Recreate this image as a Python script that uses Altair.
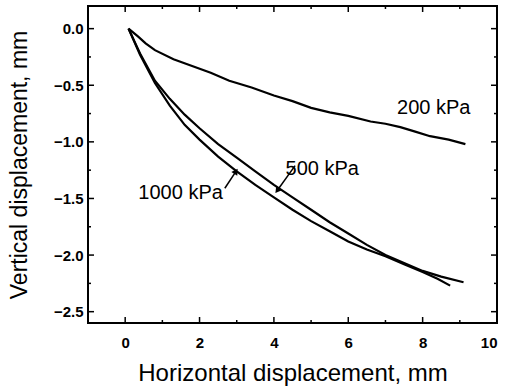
import altair as alt
import pandas as pd

# ---- data ----
x_200 = [0.09, 0.35, 0.55, 0.8, 1.3, 1.8, 2.3, 2.8, 3.4, 4.0, 4.5, 5.0, 5.5, 6.0, 6.6, 7.0, 7.4, 7.8, 8.2, 8.7, 9.15]
y_200 = [0.0, -0.07, -0.13, -0.19, -0.27, -0.33, -0.39, -0.46, -0.52, -0.59, -0.64, -0.70, -0.74, -0.77, -0.82, -0.84, -0.87, -0.91, -0.95, -0.98, -1.02]

x_500 = [0.09, 0.4, 0.8, 1.2, 1.6, 2.0, 2.5, 3.0, 3.5, 4.0, 4.5, 5.0, 5.5, 6.0, 6.5, 7.0, 7.5, 8.0, 8.5, 9.1]
y_500 = [0.0, -0.22, -0.46, -0.62, -0.76, -0.88, -1.02, -1.14, -1.26, -1.38, -1.49, -1.60, -1.71, -1.81, -1.91, -2.00, -2.07, -2.14, -2.19, -2.24]

x_1000 = [0.09, 0.4, 0.8, 1.2, 1.6, 2.0, 2.5, 3.0, 3.5, 4.0, 4.5, 5.0, 5.5, 6.0, 6.5, 7.0, 7.5, 8.0, 8.4, 8.74]
y_1000 = [0.0, -0.23, -0.48, -0.68, -0.85, -0.98, -1.13, -1.26, -1.38, -1.49, -1.60, -1.70, -1.79, -1.88, -1.95, -2.01, -2.08, -2.15, -2.21, -2.27]

label_text = ["200 kPa", "500 kPa", "1000 kPa"]
label_x = [8.30, 5.30, 1.49]
label_y = [-0.70, -1.24, -1.45]

arrow_name = ["500 kPa", "500 kPa", "1000 kPa", "1000 kPa"]
arrow_x = [4.57, 4.09, 2.68, 2.98]
arrow_y = [-1.21, -1.43, -1.41, -1.26]
arrow_part = ["tail", "head", "tail", "head"]
head_angle = [217, 33]

x_major = [0, 2, 4, 6, 8, 10]
x_minor = [1, 3, 5, 7, 9]
y_major = [0.0, -0.5, -1.0, -1.5, -2.0, -2.5]
y_minor = [-0.25, -0.75, -1.25, -1.75, -2.25]

# ---- tables ----
rows = []
for name, xs_, ys_ in [("200 kPa", x_200, y_200), ("500 kPa", x_500, y_500), ("1000 kPa", x_1000, y_1000)]:
    for xv, yv in zip(xs_, ys_):
        rows.append({"series": name, "x": xv, "y": yv})
df = pd.DataFrame(rows)
labels_df = pd.DataFrame({"text": label_text, "x": label_x, "y": label_y})
arrows_df = pd.DataFrame({"name": arrow_name, "x": arrow_x, "y": arrow_y, "part": arrow_part})
heads_df = arrows_df[arrows_df["part"] == "head"].copy()
heads_df["angle"] = head_angle

FONT = "Liberation Sans"
W, H = 409, 317
MAJ, MIN = 6, 3
xs = alt.Scale(domain=[-1, 10], nice=False, zero=False)
ys = alt.Scale(domain=[-2.6, 0.2], nice=False, zero=False)

lines = alt.Chart(df).mark_line(color="black", strokeWidth=2.2).encode(
    x=alt.X("x:Q", scale=xs, axis=alt.Axis(
        orient="bottom", values=x_major, format="d", title="Horizontal displacement, mm",
        domain=False, grid=False, ticks=False, labelPadding=12,
        labelFont=FONT, labelFontSize=15, labelFontWeight="bold", labelColor="black",
        titleFont=FONT, titleFontSize=24, titleFontWeight="normal", titleColor="black",
        titlePadding=11)),
    y=alt.Y("y:Q", scale=ys, axis=alt.Axis(
        orient="left", values=y_major, format=".1f", title="Vertical displacement, mm",
        domain=False, grid=False, ticks=False, labelPadding=5,
        labelFont=FONT, labelFontSize=15, labelFontWeight="bold", labelColor="black",
        titleFont=FONT, titleFontSize=23, titleFontWeight="normal", titleColor="black",
        titlePadding=22)),
    detail="series:N",
)

# inward frame ticks, positioned through the shared scales
tick_layers = []
for vals, size in [(x_major, MAJ), (x_minor, MIN)]:
    tdf = pd.DataFrame({"x": vals})
    for y0, y1 in [(H, H - size), (0, size)]:
        tick_layers.append(alt.Chart(tdf).mark_rule(color="black", strokeWidth=1.5).encode(
            x=alt.X("x:Q", scale=xs), y=alt.value(y0), y2=alt.value(y1)))
for vals, size in [(y_major, MAJ), (y_minor, MIN)]:
    tdf = pd.DataFrame({"y": vals})
    for x0, x1 in [(0, size), (W, W - size)]:
        tick_layers.append(alt.Chart(tdf).mark_rule(color="black", strokeWidth=1.5).encode(
            y=alt.Y("y:Q", scale=ys), x=alt.value(x0), x2=alt.value(x1)))

texts = alt.Chart(labels_df).mark_text(font=FONT, fontSize=20, color="black").encode(
    x=alt.X("x:Q", scale=xs),
    y=alt.Y("y:Q", scale=ys),
    text="text:N",
)

arrow_lines = alt.Chart(arrows_df).mark_line(color="black", strokeWidth=1.5).encode(
    x=alt.X("x:Q", scale=xs),
    y=alt.Y("y:Q", scale=ys),
    detail="name:N",
)
arrow_heads = alt.Chart(heads_df).mark_point(shape="triangle-up", filled=True, color="black",
                                             size=50, opacity=1).encode(
    x=alt.X("x:Q", scale=xs),
    y=alt.Y("y:Q", scale=ys),
    angle=alt.Angle("angle:Q", scale=None),
)

chart = alt.layer(lines, *tick_layers, texts, arrow_lines, arrow_heads).properties(
    width=W, height=H,
    autosize=alt.AutoSizeParams(type="none"),
    padding={"left": 88, "top": 6, "right": 12, "bottom": 66},
    background="white",
).configure_view(stroke="black", strokeWidth=2)

chart.save("out.html", embed_options={"renderer": "svg", "actions": False})
